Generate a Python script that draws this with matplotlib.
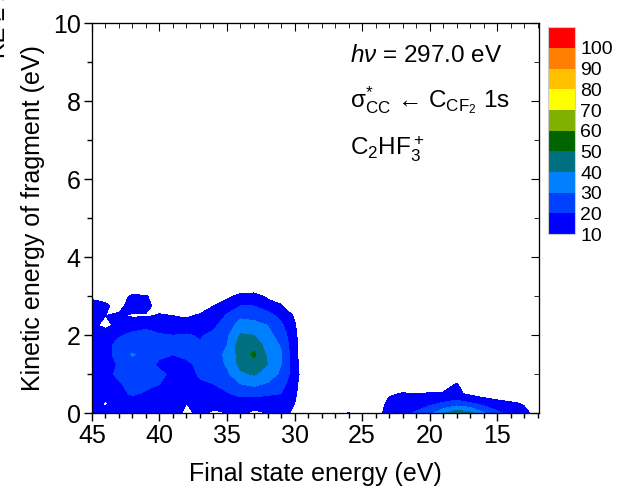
import numpy as np
import matplotlib
matplotlib.use("Agg")
import matplotlib.pyplot as plt
from matplotlib.colors import ListedColormap, BoundaryNorm
from matplotlib.ticker import MultipleLocator

plt.rcParams['font.family'] = ['Liberation Sans', 'DejaVu Sans']
plt.rcParams['mathtext.fontset'] = 'custom'
plt.rcParams['mathtext.rm'] = 'Liberation Sans'
plt.rcParams['mathtext.it'] = 'Liberation Sans:italic'

# final state energy (eV), kinetic energy (eV)
final_energy = np.arange(45, 11, -1)          # 45 ... 12
kinetic_energy = np.arange(0, 3.5, 0.25)      # 0 ... 3.25

# counts, one row per kinetic energy, columns follow final_energy
counts = [
    # 45  44  43  42  41  40  39  38  37  36  35  34  33  32  31  30 | 29 28 27 26 25 24  23  22  21  20  19  18  17  16  15  14  13  12
    [13, 12, 14, 13, 12, 11, 12,  9, 11,  9, 10, 11,  9, 10, 12,  9,  0, 0, 0, 11, 0,  7, 13, 18, 21, 27, 38, 47, 43, 31, 22, 17, 13,  6],
    [14,  9, 15, 16, 14, 13, 11, 10, 13, 12, 13, 14, 12, 11, 13, 10,  0, 0, 0,  0, 0,  0, 14, 16, 16, 18, 21, 24, 21, 17, 14, 12,  9,  0],
    [15, 14, 18, 21, 19, 17, 15, 14, 16, 17, 19, 23, 24, 22, 20, 12,  0, 0, 0,  0, 0,  0,  8, 11, 10, 11, 12, 12,  8,  5,  3,  0,  0,  0],
    [16, 15, 19, 23, 22, 20, 18, 16, 19, 20, 24, 30, 32, 29, 24, 13,  0, 0, 0,  0, 0,  0,  0,  0,  0,  0,  0, 11,  0,  0,  0,  0,  0,  0],
    [14, 17, 22, 24, 23, 21, 19, 17, 21, 23, 28, 38, 41, 36, 28, 15,  0, 0, 0,  0, 0,  0,  0,  0,  0,  0,  0,  0,  0,  0,  0,  0,  0,  0],
    [13, 16, 21, 25, 22, 19, 18, 18, 22, 25, 31, 43, 46, 40, 30, 14,  0, 0, 0,  0, 0,  0,  0,  0,  0,  0,  0,  0,  0,  0,  0,  0,  0,  0],
    [15, 18, 22, 31, 26, 21, 20, 22, 23, 26, 32, 44, 52, 38, 31, 13,  0, 0, 0,  0, 0,  0,  0,  0,  0,  0,  0,  0,  0,  0,  0,  0,  0,  0],
    [14, 17, 23, 24, 22, 21, 22, 23, 21, 24, 30, 45, 46, 36, 29, 13,  0, 0, 0,  0, 0,  0,  0,  0,  0,  0,  0,  0,  0,  0,  0,  0,  0,  0],
    [13, 15, 19, 22, 23, 21, 20, 21, 19, 22, 28, 41, 40, 33, 26, 12,  0, 0, 0,  0, 0,  0,  0,  0,  0,  0,  0,  0,  0,  0,  0,  0,  0,  0],
    [12,  8, 12, 16, 18, 15, 14, 13, 15, 18, 25, 34, 33, 30, 22, 11,  0, 0, 0,  0, 0,  0,  0,  0,  0,  0,  0,  0,  0,  0,  0,  0,  0,  0],
    [13, 10, 11,  9,  9, 11, 10,  9, 11, 14, 21, 28, 27, 24, 17,  9,  0, 0, 0,  0, 0,  0,  0,  0,  0,  0,  0,  0,  0,  0,  0,  0,  0,  0],
    [12, 11,  8, 13, 13,  6,  5,  4,  6, 10, 16, 20, 20, 15, 11,  4,  0, 0, 0,  0, 0,  0,  0,  0,  0,  0,  0,  0,  0,  0,  0,  0,  0,  0],
    [ 9,  8,  5, 12, 11,  4,  2,  2,  3,  4,  7, 14, 15,  8,  5,  0,  0, 0, 0,  0, 0,  0,  0,  0,  0,  0,  0,  0,  0,  0,  0,  0,  0,  0],
    [ 0,  0,  0,  0,  0,  0,  0,  0,  0,  0,  0,  0,  0,  0,  0,  0,  0, 0, 0,  0, 0,  0,  0,  0,  0,  0,  0,  0,  0,  0,  0,  0,  0,  0],
]

levels = [10, 20, 30, 40, 50, 60, 70, 80, 90, 100, 110]
level_colors = ['#0000ff', '#0040ff', '#0080ff', '#007080', '#006400',
                '#80b000', '#ffff00', '#ffc000', '#ff8000', '#ff0000']

cmap = ListedColormap(level_colors)
norm = BoundaryNorm(levels, cmap.N)

fig = plt.figure(figsize=(6.21, 4.96), dpi=100)
ax = fig.add_axes([0.148, 0.167, 0.72, 0.786])

X, Y = np.meshgrid(final_energy, kinetic_energy)
Z = np.array(counts, dtype=float)
cs = ax.contourf(X, Y, Z, levels=levels, colors=level_colors)

ax.set_xlim(45, 11.9)
ax.set_ylim(0, 10)
ax.xaxis.set_major_locator(MultipleLocator(5))
ax.xaxis.set_minor_locator(MultipleLocator(1))
ax.yaxis.set_major_locator(MultipleLocator(2))
ax.yaxis.set_minor_locator(MultipleLocator(1))
ax.tick_params(which='both', direction='out', top=False, right=False, labelsize=18)
ax.tick_params(which='major', length=6, width=1, pad=2)
ax.tick_params(which='minor', length=3.5, width=1)

# inward ticks on top and right
ax2 = ax.twinx()
ax2.set_ylim(0, 10)
ax2.yaxis.set_major_locator(MultipleLocator(2))
ax2.yaxis.set_minor_locator(MultipleLocator(1))
ax2.tick_params(which='both', direction='in', labelright=False)
ax2.tick_params(which='major', length=6)
ax2.tick_params(which='minor', length=3.5)
ax3 = ax.twiny()
ax3.set_xlim(45, 11.9)
ax3.xaxis.set_major_locator(MultipleLocator(5))
ax3.xaxis.set_minor_locator(MultipleLocator(1))
ax3.tick_params(which='both', direction='in', labeltop=False)
ax3.tick_params(which='major', length=6)
ax3.tick_params(which='minor', length=3.5)

ax.set_xlabel('Final state energy (eV)', fontsize=18, labelpad=10)
ax.set_ylabel('Kinetic energy of fragment (eV)', fontsize=18, labelpad=6)

ax.text(0.578, 0.9, r'$h\nu$ = 297.0 eV', transform=ax.transAxes, fontsize=17.5)
ax.text(0.578, 0.785, r'$\mathrm{\sigma^{*}_{CC}}$ ← $\mathrm{C_{CF_2}}$ 1s',
        transform=ax.transAxes, fontsize=17.5)
ax.text(0.578, 0.66, r'$\mathrm{C_2HF_3^+}$', transform=ax.transAxes, fontsize=17.5)

fig.text(0.016, 0.883, 'KE ≥ 24 eV', rotation=90, ha='right', va='bottom', fontsize=17)

cax = fig.add_axes([0.882, 0.528, 0.0435, 0.417])
cb = fig.colorbar(cs, cax=cax, ticks=levels[:-1])
cb.outline.set_edgecolor('#cccccc')
cb.outline.set_linewidth(0.8)
cax.tick_params(length=0, labelsize=14, pad=4)

fig.savefig('out.png', dpi=100)
